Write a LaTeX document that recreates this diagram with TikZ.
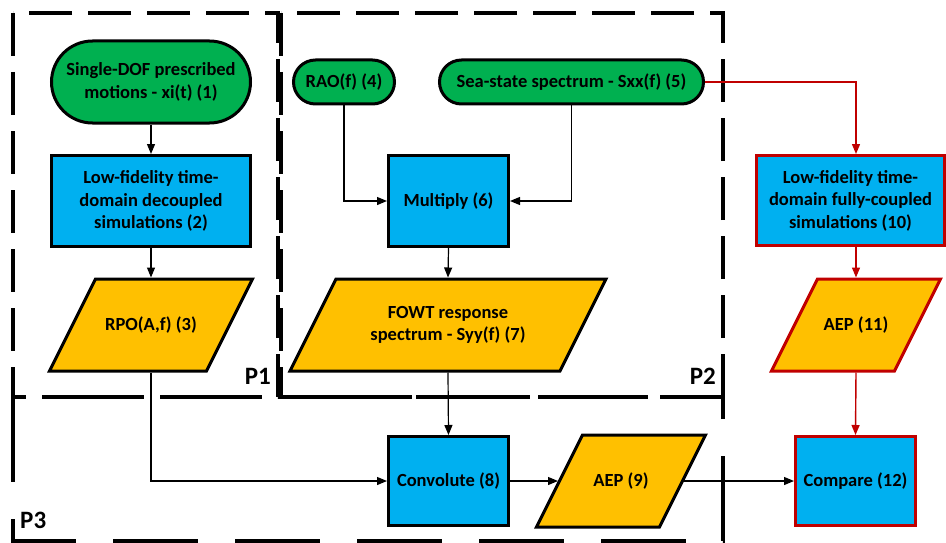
\documentclass[tikz,border=0pt]{standalone}
\usepackage{fontspec}
\setmainfont{Carlito}
\usetikzlibrary{arrows.meta}
\definecolor{cgreen}{HTML}{00B050}
\definecolor{cblue}{HTML}{00B0F0}
\definecolor{corange}{HTML}{FFC000}
\definecolor{cred}{HTML}{C00000}
\newcommand\parnode[6]{%
  \filldraw[line width=3pt, fill=corange, draw=#5, line join=miter]
    (#2-#4/2+23,#3-46) -- (#2+#4/2+23,#3-46) -- (#2+#4/2-23,#3+46) -- (#2-#4/2-23,#3+46) -- cycle;
  \node[base, minimum width=#4, minimum height=92] (#1) at (#2,#3) {#6};
}
\begin{document}
\begin{tikzpicture}[x=1pt,y=-1pt,
  base/.style={font=\fontsize{18.5}{22.5}\selectfont\bfseries, align=center, inner sep=0pt, line width=3pt},
  term/.style={base, draw=black, fill=cgreen},
  proc/.style={base, draw=black, fill=cblue},
  frameA/.style={line width=4pt, dash pattern=on 43pt off 16pt},
  frameB/.style={line width=4pt, dash pattern=on 85pt off 37pt},
  conn/.style={line width=1.2pt, -{Triangle[length=10pt,width=8pt]}},
  rconn/.style={line width=1.4pt, draw=cred, -{Triangle[length=10pt,width=8pt]}},
  plabel/.style={font=\fontsize{25}{25}\selectfont\bfseries, inner sep=0pt}
]
\useasboundingbox (0,0) rectangle (946,543);

% frames
\draw[frameA] (13,13) rectangle (278,397);
\draw[frameA] (281,13) rectangle (723,397);
\draw[frameB] (13,397) rectangle (723,541);
\node[plabel, anchor=base east] (p1) at (271,384) {P1};
\node[plabel, anchor=base east] (p2) at (716,384) {P2};
\node[plabel, anchor=base west] (p3) at (20,528) {P3};

% nodes
\node[term, minimum width=199, minimum height=82, rounded corners=41] (n1) at (151,82) {Single-DOF prescribed\\motions - xi(t) (1)};
\node[proc, minimum width=199, minimum height=91] (n2) at (151,201) {Low-fidelity time-\\domain decoupled\\simulations (2)};
\parnode{n3}{151}{325}{157}{black}{RPO(A,f) (3)}

\node[term, minimum width=101, minimum height=44, rounded corners=22] (n4) at (344,82) {RAO(f) (4)};
\node[term, minimum width=264, minimum height=44, rounded corners=22] (n5) at (571.5,82) {Sea-state spectrum - Sxx(f) (5)};
\node[proc, minimum width=120, minimum height=91] (n6) at (448.5,201) {Multiply (6)};
\parnode{n7}{448}{325}{270}{black}{FOWT response\\spectrum - Syy(f) (7)}

\node[proc, minimum width=120, minimum height=89] (n8) at (448.5,481) {Convolute (8)};
\parnode{n9}{621}{481}{123}{black}{AEP (9)}

\node[proc, draw=cred, minimum width=188, minimum height=90] (n10) at (850.5,200.5) {Low-fidelity time-\\domain fully-coupled\\simulations (10)};
\parnode{n11}{856}{325}{123}{cred}{AEP (11)}
\node[proc, draw=cred, minimum width=120, minimum height=89] (n12) at (855.5,481) {Compare (12)};

% connectors
\draw[conn] (n1.south) -- (n2.north);
\draw[conn] (n2.south) -- (n3.north);
\draw[conn] (n3.south) |- (n8.west);
\draw[conn] (n4.south) |- (n6.west);
\draw[conn] (n5.south) |- (n6.east);
\draw[conn] (n6.south) -- (n7.north);
\draw[conn] (n7.south) -- (n8.north);
\draw[conn] (n8.east) -- (n9.west);
\draw[conn] (n9.east) -- (n12.west);
\draw[rconn] (n5.east) -| ([xshift=5.5pt]n10.north);
\draw[rconn] ([xshift=5.5pt]n10.south) -- (n11.north);
\draw[rconn] (n11.south) -- (n12.north);
\end{tikzpicture}
\end{document}
